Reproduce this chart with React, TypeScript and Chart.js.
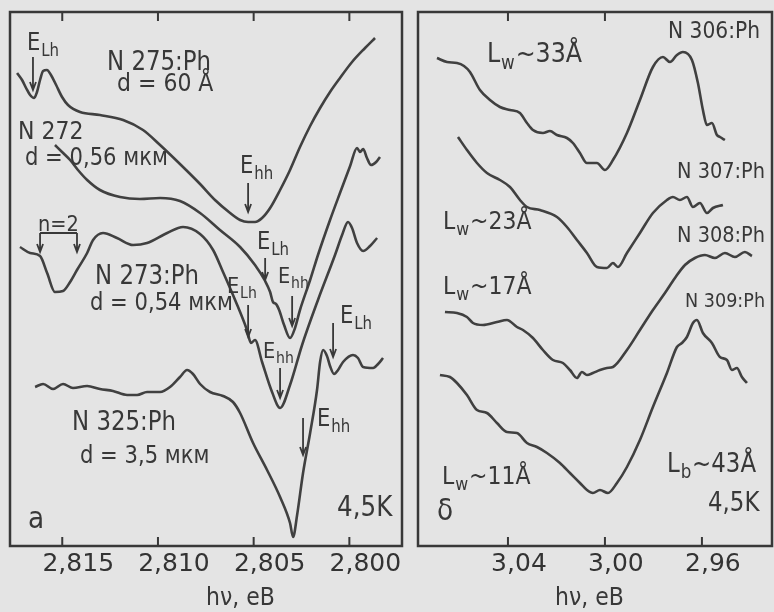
import { useEffect, useRef } from 'react';
import { Chart, registerables } from 'chart.js';

Chart.register(...registerables);
Chart.defaults.font.family = '"DejaVu Sans", sans-serif';

// ---------- Panel a: energies (eV) and intensities (arb. units) ----------
const N275_E = [2.81736, 2.8171, 2.81689, 2.81668, 2.81647, 2.81632, 2.81616, 2.816, 2.8158, 2.81559, 2.81532, 2.81501, 2.8147, 2.81407, 2.81303, 2.81182, 2.81078, 2.80989, 2.80885, 2.8078, 2.80702, 2.80623, 2.80571, 2.80529, 2.80493, 2.80456, 2.80414, 2.80362, 2.8031, 2.80258, 2.80205, 2.80153, 2.80101, 2.80049, 2.79986, 2.79918, 2.79866];
const N275_I = [473, 466, 458, 451, 448, 454, 466, 475, 476, 471, 461, 449, 441, 434, 431, 426, 416, 401, 382, 362, 346, 333, 326, 324, 324, 328, 338, 356, 376, 399, 420, 438, 454, 468, 484, 498, 508];

const N272_E = [2.81538, 2.81501, 2.81459, 2.81418, 2.8137, 2.81303, 2.81198, 2.81094, 2.80989, 2.80885, 2.8078, 2.80676, 2.80571, 2.80493, 2.8044, 2.80414, 2.80399, 2.80383, 2.80367, 2.80341, 2.8031, 2.80284, 2.80258, 2.80205, 2.80164, 2.80101, 2.80049, 2.79996, 2.7996, 2.79944, 2.79928, 2.79908, 2.79887, 2.7986, 2.7984];
const N272_I = [401, 394, 386, 376, 366, 356, 349, 347, 348, 345, 333, 316, 299, 281, 265, 254, 244, 242, 236, 221, 208, 218, 236, 266, 291, 326, 353, 380, 398, 394, 397, 388, 381, 384, 389];

const N273_E = [2.81721, 2.81668, 2.81616, 2.81579, 2.81538, 2.81496, 2.81459, 2.81423, 2.8137, 2.81339, 2.81287, 2.81214, 2.8113, 2.81057, 2.80952, 2.80869, 2.8078, 2.80712, 2.8066, 2.80597, 2.80535, 2.80514, 2.80493, 2.80456, 2.80404, 2.80362, 2.8031, 2.80247, 2.80164, 2.80075, 2.80038, 2.80007, 2.79986, 2.7996, 2.79928, 2.79892, 2.79855];
const N273_I = [299, 293, 290, 273, 254, 255, 264, 276, 293, 306, 313, 308, 301, 303, 313, 319, 312, 296, 274, 246, 216, 203, 206, 184, 154, 138, 161, 201, 246, 291, 311, 324, 318, 303, 295, 300, 308];

const N325_E = [2.81642, 2.816, 2.81548, 2.81496, 2.81444, 2.8137, 2.81303, 2.81235, 2.81161, 2.81109, 2.81057, 2.80989, 2.80937, 2.80885, 2.80848, 2.80817, 2.8078, 2.80728, 2.8066, 2.80608, 2.80571, 2.80503, 2.8043, 2.80362, 2.8031, 2.80294, 2.80273, 2.80242, 2.80205, 2.80169, 2.80153, 2.80137, 2.80117, 2.80101, 2.8008, 2.80059, 2.80033, 2.79981, 2.79955, 2.79928, 2.79876, 2.7985, 2.79824];
const N325_I = [159, 162, 157, 162, 158, 160, 157, 155, 151, 151, 154, 154, 159, 169, 176, 172, 162, 154, 150, 144, 133, 103, 76, 49, 23, 9, 31, 73, 113, 156, 184, 196, 190, 180, 172, 176, 184, 191, 188, 179, 178, 182, 188];

// ---------- Panel б ----------
const N306_E = [3.06928, 3.06515, 3.06103, 3.05814, 3.05567, 3.05155, 3.04742, 3.0433, 3.03918, 3.03505, 3.03216, 3.02969, 3.02557, 3.02268, 3.01979, 3.01567, 3.0132, 3.01031, 3.00742, 3.0033, 3.0, 2.9967, 2.99093, 2.98557, 2.98021, 2.97608, 2.9732, 2.97031, 2.96784, 2.96412, 2.96165, 2.95959, 2.95794, 2.95588, 2.95381, 2.95258, 2.95052];
const N306_I = [488, 484, 483, 480, 474, 456, 446, 439, 436, 433, 423, 416, 413, 415, 411, 408, 403, 393, 383, 383, 376, 386, 413, 446, 479, 489, 484, 491, 494, 486, 463, 436, 421, 423, 411, 409, 406];

const N307_E = [3.06062, 3.05691, 3.05278, 3.04866, 3.0433, 3.03918, 3.03505, 3.03216, 3.0268, 3.01979, 3.01567, 3.01155, 3.00742, 3.0033, 2.99918, 2.9967, 2.99464, 2.99093, 2.98557, 2.98021, 2.97443, 2.97196, 2.96907, 2.96619, 2.96371, 2.96082, 2.95794, 2.95546, 2.95134];
const N307_I = [409, 396, 383, 373, 366, 359, 346, 339, 336, 329, 319, 306, 293, 279, 278, 283, 279, 293, 313, 333, 346, 349, 346, 349, 339, 343, 333, 338, 341];

const N308_E = [3.06598, 3.06103, 3.05691, 3.05443, 3.05031, 3.04454, 3.04041, 3.03629, 3.03381, 3.02969, 3.02557, 3.02144, 3.01732, 3.01443, 3.01155, 3.00948, 3.00742, 3.00495, 3.00206, 2.99918, 2.9967, 2.99093, 2.98557, 2.98021, 2.97526, 2.97113, 2.96701, 2.96289, 2.95876, 2.95464, 2.95052, 2.94639, 2.94227, 2.93938];
const N308_I = [234, 233, 229, 223, 221, 224, 226, 219, 216, 208, 196, 186, 183, 176, 168, 174, 171, 173, 176, 178, 179, 196, 216, 236, 253, 268, 281, 288, 291, 288, 293, 289, 294, 290];

const N309_E = [3.06804, 3.06392, 3.06103, 3.05691, 3.05278, 3.04866, 3.04454, 3.04041, 3.03629, 3.03216, 3.02804, 3.02392, 3.01856, 3.01443, 3.01031, 3.00742, 3.00495, 3.00206, 2.99876, 2.99505, 2.99093, 2.98557, 2.98021, 2.97443, 2.97031, 2.96825, 2.96619, 2.96371, 2.96206, 2.95959, 2.95588, 2.95258, 2.94969, 2.94763, 2.94557, 2.94351, 2.94144];
const N309_I = [171, 169, 163, 151, 136, 133, 123, 114, 113, 103, 99, 93, 83, 73, 63, 56, 53, 56, 53, 63, 79, 106, 139, 173, 199, 203, 209, 223, 226, 213, 203, 189, 186, 176, 178, 169, 163];

// ---------- Axes ----------
const LEFT_TICKS = [2.815, 2.81, 2.805, 2.8];
const LEFT_TOP_TICKS = [2.815, 2.81, 2.805, 2.8];
const RIGHT_TICKS = [3.04, 3.0, 2.96];
const RIGHT_TOP_TICKS = [3.04, 3.0];
const LEFT_RANGE = [2.79725, 2.81773];
const RIGHT_RANGE = [2.9311, 3.0771];
const X_TITLE = 'hν, eB';

// ---------- Marker arrows (energy, from, to) ----------
type Arrow = { e: number; from: number; to: number };
const LEFT_ARROWS: Arrow[] = [
  { e: 2.81653, from: 489, to: 456 },
  { e: 2.80529, from: 363, to: 334 },
  { e: 2.81616, from: 313, to: 294 },
  { e: 2.81423, from: 313, to: 294 },
  { e: 2.8044, from: 288, to: 266 },
  { e: 2.80299, from: 250, to: 220 },
  { e: 2.80529, from: 241, to: 209 },
  { e: 2.80362, from: 178, to: 148 },
  { e: 2.80085, from: 223, to: 189 },
  { e: 2.80242, from: 128, to: 91 },
];
const BRACKET = { e1: 2.81616, e2: 2.81423, level: 313 };

type Ann = { t: string; s?: string; tail?: string; x: number; y: number; size?: number };
const LEFT_LABELS: Ann[] = [
  { t: 'E', s: 'Lh', x: 17, y: 32, size: 24 },
  { t: 'N 275:Ph', x: 97, y: 51, size: 26 },
  { t: 'd = 60 Å', x: 107, y: 72, size: 25 },
  { t: 'N 272', x: 8, y: 120, size: 25 },
  { t: 'd = 0,56 мкм', x: 15, y: 147, size: 24 },
  { t: 'E', s: 'hh', x: 230, y: 155, size: 24 },
  { t: 'n=2', x: 28, y: 213, size: 22 },
  { t: 'E', s: 'Lh', x: 247, y: 231, size: 24 },
  { t: 'E', s: 'hh', x: 268, y: 265, size: 22 },
  { t: 'N 273:Ph', x: 85, y: 265, size: 26 },
  { t: 'd = 0,54 мкм', x: 80, y: 292, size: 24 },
  { t: 'E', s: 'Lh', x: 217, y: 275, size: 22 },
  { t: 'E', s: 'hh', x: 253, y: 340, size: 22 },
  { t: 'E', s: 'Lh', x: 330, y: 305, size: 24 },
  { t: 'E', s: 'hh', x: 307, y: 408, size: 24 },
  { t: 'N 325:Ph', x: 62, y: 411, size: 26 },
  { t: 'd = 3,5 мкм', x: 70, y: 445, size: 24 },
  { t: 'а', x: 18, y: 508, size: 30 },
  { t: '4,5K', x: 327, y: 497, size: 28 },
];
const RIGHT_LABELS: Ann[] = [
  { t: 'N 306:Ph', x: 250, y: 20, size: 23 },
  { t: 'L', s: 'w', tail: '~33Å', x: 69, y: 43, size: 27 },
  { t: 'N 307:Ph', x: 259, y: 160, size: 22 },
  { t: 'L', s: 'w', tail: '~23Å', x: 25, y: 210, size: 25 },
  { t: 'N 308:Ph', x: 259, y: 224, size: 22 },
  { t: 'L', s: 'w', tail: '~17Å', x: 25, y: 275, size: 25 },
  { t: 'N 309:Ph', x: 267, y: 290, size: 20 },
  { t: 'L', s: 'w', tail: '~11Å', x: 24, y: 465, size: 25 },
  { t: 'δ', x: 19, y: 500, size: 30 },
  { t: 'L', s: 'b', tail: '~43Å', x: 249, y: 453, size: 26 },
  { t: '4,5K', x: 290, y: 492, size: 26 },
];

const INK = '#383838';
const LINE = '#404040';
const BG = '#e4e4e4';
const SX = 0.88;

function drawLabel(ctx: CanvasRenderingContext2D, x: number, y: number, a: Ann) {
  const size = a.size ?? 24;
  ctx.save();
  ctx.translate(x, y);
  ctx.scale(SX, 1);
  ctx.fillStyle = INK;
  ctx.textBaseline = 'middle';
  ctx.textAlign = 'left';
  ctx.font = `${size}px "DejaVu Sans"`;
  ctx.fillText(a.t, 0, 0);
  let w = ctx.measureText(a.t).width;
  if (a.s) {
    const ss = Math.round(size * 0.72);
    ctx.font = `${ss}px "DejaVu Sans"`;
    ctx.fillText(a.s, w + 1, size * 0.32);
    w += 1 + ctx.measureText(a.s).width;
    ctx.font = `${size}px "DejaVu Sans"`;
  }
  if (a.tail) ctx.fillText(a.tail, w + 1, 0);
  ctx.restore();
}

function framePlugin(o: {
  bottom: number[]; top: number[]; arrows: Arrow[]; labels: Ann[];
  bracket?: typeof BRACKET; titleDx: number; titleDy: number;
}) {
  return {
    id: 'frame',
    afterDatasetsDraw(chart: any) {
      const { ctx, chartArea: a, scales } = chart;
      const xs = scales.x, ys = scales.y;
      ctx.save();
      ctx.strokeStyle = INK;
      ctx.lineWidth = 2.5;
      ctx.strokeRect(a.left, a.top, a.right - a.left, a.bottom - a.top);
      ctx.lineWidth = 2;
      ctx.beginPath();
      o.bottom.forEach((v) => {
        const p = xs.getPixelForValue(v);
        ctx.moveTo(p, a.bottom);
        ctx.lineTo(p, a.bottom - 9);
      });
      o.top.forEach((v) => {
        const p = xs.getPixelForValue(v);
        ctx.moveTo(p, a.top);
        ctx.lineTo(p, a.top + 9);
      });
      ctx.stroke();
      ctx.lineWidth = 1.8;
      o.arrows.forEach((ar) => {
        const p = xs.getPixelForValue(ar.e);
        const y1 = ys.getPixelForValue(ar.from);
        const y2 = ys.getPixelForValue(ar.to);
        ctx.beginPath();
        ctx.moveTo(p, y1);
        ctx.lineTo(p, y2);
        ctx.moveTo(p - 3, y2 - 8);
        ctx.lineTo(p, y2);
        ctx.lineTo(p + 3, y2 - 8);
        ctx.stroke();
      });
      if (o.bracket) {
        const b = o.bracket;
        const yb = ys.getPixelForValue(b.level);
        ctx.beginPath();
        ctx.moveTo(xs.getPixelForValue(b.e1), yb);
        ctx.lineTo(xs.getPixelForValue(b.e2), yb);
        ctx.stroke();
      }
      o.labels.forEach((l) => drawLabel(ctx, a.left + l.x, a.top + l.y, l));
      drawLabel(ctx, a.left + o.titleDx, a.bottom + o.titleDy, { t: X_TITLE, x: 0, y: 0, size: 25 });
      ctx.restore();
    },
  };
}

function ds(E: number[], I: number[]) {
  return {
    data: E.map((e, i) => ({ x: e, y: I[i] })),
    borderColor: LINE,
    borderWidth: 2.6,
    pointRadius: 0,
    fill: false,
    cubicInterpolationMode: 'monotone' as const,
  };
}

function makeChart(canvas: HTMLCanvasElement, o: {
  sets: any[]; range: number[]; ticks: number[]; digits: number; labelOffset: number;
  pad: { left: number; right: number; top: number }; plugin: any;
}) {
  return new Chart(canvas, {
    type: 'line',
    data: { datasets: o.sets },
    options: {
      animation: false,
      responsive: false,
      maintainAspectRatio: false,
      layout: { padding: { left: o.pad.left, right: o.pad.right, top: o.pad.top, bottom: 0 } },
      plugins: { legend: { display: false }, tooltip: { enabled: false } },
      scales: {
        x: {
          type: 'linear',
          reverse: true,
          min: o.range[0],
          max: o.range[1],
          afterBuildTicks: (s: any) => { s.ticks = o.ticks.map((v) => ({ value: v })); },
          afterFit: (s: any) => { s.height = 66; },
          grid: { display: false, drawTicks: false },
          border: { display: false },
          ticks: {
            autoSkip: false,
            maxRotation: 0,
            padding: 3,
            labelOffset: o.labelOffset,
            color: '#333',
            font: { size: 25 },
            callback: (v: any) => Number(v).toFixed(o.digits).replace('.', ','),
          },
        },
        y: { type: 'linear', min: 0, max: 534, display: false },
      },
    },
    plugins: [o.plugin],
  });
}

export default function App() {
  const leftRef = useRef<HTMLCanvasElement>(null);
  const rightRef = useRef<HTMLCanvasElement>(null);
  useEffect(() => {
    const c1 = makeChart(leftRef.current!, {
      sets: [ds(N275_E, N275_I), ds(N272_E, N272_I), ds(N273_E, N273_I), ds(N325_E, N325_I)],
      range: LEFT_RANGE, ticks: LEFT_TICKS, digits: 3, labelOffset: 16,
      pad: { left: 10, right: 8, top: 12 },
      plugin: framePlugin({ bottom: LEFT_TICKS, top: LEFT_TOP_TICKS, arrows: LEFT_ARROWS, labels: LEFT_LABELS, bracket: BRACKET, titleDx: 196, titleDy: 52 }),
    });
    const c2 = makeChart(rightRef.current!, {
      sets: [ds(N306_E, N306_I), ds(N307_E, N307_I), ds(N308_E, N308_I), ds(N309_E, N309_I)],
      range: RIGHT_RANGE, ticks: RIGHT_TICKS, digits: 2, labelOffset: 11,
      pad: { left: 8, right: 2, top: 12 },
      plugin: framePlugin({ bottom: RIGHT_TICKS, top: RIGHT_TOP_TICKS, arrows: [], labels: RIGHT_LABELS, titleDx: 137, titleDy: 52 }),
    });
    return () => { c1.destroy(); c2.destroy(); };
  }, []);
  return (
    <div style={{ position: 'absolute', left: 0, top: 0, width: 774, height: 612, background: BG, overflow: 'hidden' }}>
      <canvas ref={leftRef} width={410} height={612} style={{ position: 'absolute', left: 0, top: 0, width: 410, height: 612 }} />
      <canvas ref={rightRef} width={364} height={612} style={{ position: 'absolute', left: 410, top: 0, width: 364, height: 612 }} />
    </div>
  );
}
